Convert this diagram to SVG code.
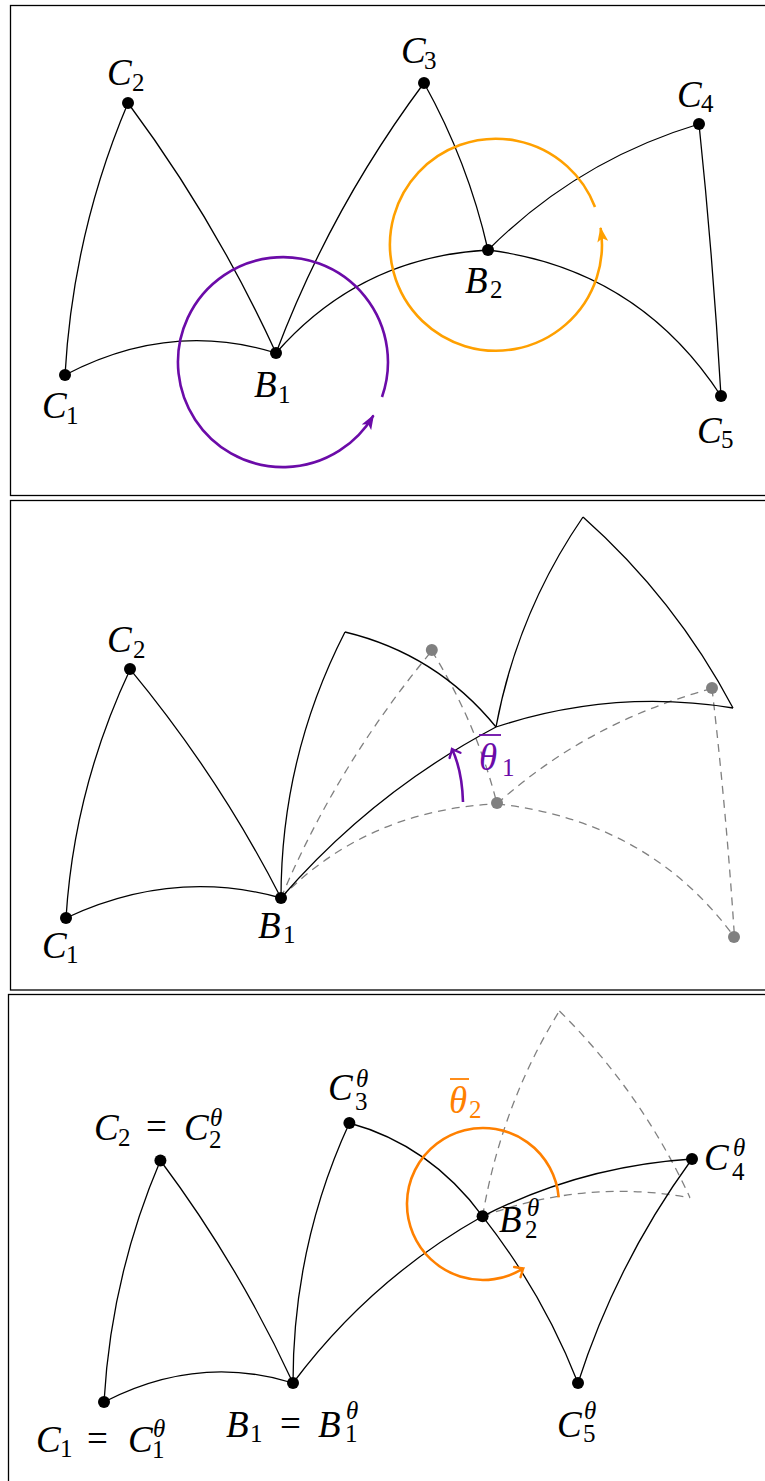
<svg xmlns="http://www.w3.org/2000/svg" width="765" height="1481" viewBox="0 0 765 1481">
<style>
.fr{fill:none;stroke:#000;stroke-width:1.3}
.e{fill:none;stroke:#000;stroke-width:1.3}
.g{fill:none;stroke:#808080;stroke-width:1.3;stroke-dasharray:8 6}
.d{fill:#000}
.gd{fill:#808080}
.L{font-family:'Liberation Serif','DejaVu Serif',serif;font-size:37px;font-style:italic;fill:#000}
.s{font-size:25px;font-style:normal}
.si{font-size:25px;font-style:italic}
.n{font-style:normal}
.pu{fill:none;stroke:#6b0ba8;stroke-width:2.6}
.or1{fill:none;stroke:#ffa000;stroke-width:2.6}
.or3{fill:none;stroke:#ff8000;stroke-width:2.6}
</style>
<defs>
<marker id="mPu" viewBox="0 0 15 11" refX="14" refY="5.5" markerWidth="15" markerHeight="11" markerUnits="userSpaceOnUse" orient="auto"><path d="M0,0 L15,5.5 L0,11 L3.5,5.5 z" fill="#6b0ba8"/></marker>
<marker id="mOr" viewBox="0 0 15 11" refX="14" refY="5.5" markerWidth="15" markerHeight="11" markerUnits="userSpaceOnUse" orient="auto"><path d="M0,0 L15,5.5 L0,11 L3.5,5.5 z" fill="#ffa000"/></marker>
<marker id="oPu" viewBox="-10 -8 12 16" refX="0" refY="0" markerWidth="12" markerHeight="16" markerUnits="userSpaceOnUse" orient="auto"><path d="M-7,-6 Q-2,-1.5 0,0 Q-2,1.5 -7,6" fill="none" stroke="#6b0ba8" stroke-width="2.4" stroke-linecap="round"/></marker>
<marker id="oOr" viewBox="-10 -8 12 16" refX="0" refY="0" markerWidth="12" markerHeight="16" markerUnits="userSpaceOnUse" orient="auto"><path d="M-7,-6 Q-2,-1.5 0,0 Q-2,1.5 -7,6" fill="none" stroke="#ff8000" stroke-width="2.4" stroke-linecap="round"/></marker>
</defs>
<rect width="765" height="1481" fill="#fff"/>
<g id="frames">
<rect class="fr" x="10.5" y="5.5" width="800" height="490"/>
<rect class="fr" x="10.5" y="500.5" width="800" height="489.5"/>
<rect class="fr" x="8.5" y="994.5" width="800" height="600" stroke="#333"/>
</g>

<g font-family="'Liberation Serif','DejaVu Serif',serif">
<!-- Panel 1 -->
<g id="connectors-p1">
<path class="e" d="M65,375 Q73,233 128,103"/>
<path class="e" d="M128,103 Q215,220 276,353"/>
<path class="e" d="M65,375 Q170,320 276,353"/>
<path class="e" d="M276,353 Q331,207.6 424,83"/>
<path class="e" d="M424,83 Q468,162 488,250"/>
<path class="e" d="M276,353 Q360,257 488,250"/>
<path class="e" d="M488,250 Q577.7,160.4 699,124"/>
<path class="e" d="M699,124 Q713,258 721,396"/>
<path class="e" d="M488,250 Q638,269 721,396"/>
<path class="pu" d="M382,397 A105,105 0 1 0 373.5,415.3" marker-end="url(#mPu)"/>
<path class="or1" d="M595,207 A106,106 0 1 0 600.6,227.9" marker-end="url(#mOr)"/>
</g>
<g id="p1-C1"><circle class="d" cx="65" cy="375" r="6"/><text class="L"><tspan x="42" y="418">C</tspan><tspan class="s" x="66" y="424">1</tspan></text></g>
<g id="p1-C2"><circle class="d" cx="128" cy="103" r="6"/><text class="L"><tspan x="107" y="85">C</tspan><tspan class="s" x="132" y="91">2</tspan></text></g>
<g id="p1-C3"><circle class="d" cx="424" cy="83" r="6"/><text class="L"><tspan x="401" y="63">C</tspan><tspan class="s" x="424" y="69">3</tspan></text></g>
<g id="p1-C4"><circle class="d" cx="699" cy="124" r="6"/><text class="L"><tspan x="677" y="107">C</tspan><tspan class="s" x="701" y="112">4</tspan></text></g>
<g id="p1-C5"><circle class="d" cx="721" cy="396" r="6"/><text class="L"><tspan x="697" y="443">C</tspan><tspan class="s" x="721" y="448">5</tspan></text></g>
<g id="p1-B1"><circle class="d" cx="276" cy="353" r="6"/><text class="L"><tspan x="254" y="397">B</tspan><tspan class="s" x="278" y="403">1</tspan></text></g>
<g id="p1-B2"><circle class="d" cx="488" cy="250" r="6"/><text class="L"><tspan x="465" y="293">B</tspan><tspan class="s" x="490" y="298">2</tspan></text></g>

<!-- Panel 2 -->
<g id="connectors-p2">
<path class="e" d="M66,918 Q74.2,788.2 130.2,669.3"/>
<path class="e" d="M130.2,669.3 Q218.8,776.3 281,898"/>
<path class="e" d="M66,918 Q173,867.8 281,898"/>
<path class="g" d="M281,898 Q337,765 431.8,650.9"/>
<path class="g" d="M431.8,650.9 Q476.6,723.2 497,803.8"/>
<path class="g" d="M281,898 Q366.6,810.2 497,803.8"/>
<path class="g" d="M497,803.8 Q588.4,721.8 712,688.5"/>
<path class="g" d="M712,688.5 Q726.3,811.1 734.5,937.3"/>
<path class="g" d="M497,803.8 Q649.9,821.1 734.5,937.3"/>
<path class="e" d="M281,898 Q281,757 345,632"/>
<path class="e" d="M345,632 Q436.5,654 496,727"/>
<path class="e" d="M281,898 Q372.5,792.3 496,727"/>
<path class="e" d="M496,727 Q517.3,612.8 583,517"/>
<path class="e" d="M583,517 Q675.4,599 733,708"/>
<path class="e" d="M496,727 Q613,688.5 733,708"/>
<path class="pu" d="M463,802 Q462,770 452,749" marker-end="url(#oPu)"/>
</g>
<g id="p2-G3"><circle class="gd" cx="431.8" cy="650" r="6"/></g>
<g id="p2-G2"><circle class="gd" cx="497" cy="803" r="6"/></g>
<g id="p2-G4"><circle class="gd" cx="712" cy="688" r="6"/></g>
<g id="p2-G5"><circle class="gd" cx="734" cy="937" r="6"/></g>
<g id="p2-C1"><circle class="d" cx="66" cy="918" r="6"/><text class="L"><tspan x="42" y="958">C</tspan><tspan class="s" x="66" y="963">1</tspan></text></g>
<g id="p2-C2"><circle class="d" cx="130" cy="669" r="6"/><text class="L"><tspan x="107" y="652">C</tspan><tspan class="s" x="133" y="658">2</tspan></text></g>
<g id="p2-B1"><circle class="d" cx="281" cy="898" r="6"/><text class="L"><tspan x="258" y="938">B</tspan><tspan class="s" x="283" y="943">1</tspan></text></g>
<g id="p2-theta1"><line x1="479" y1="735" x2="501" y2="735" stroke="#6b0ba8" stroke-width="1.8"/><text class="L" style="fill:#6b0ba8"><tspan x="479" y="770">θ</tspan><tspan class="s" x="502" y="776">1</tspan></text></g>

<!-- Panel 3 -->
<g id="connectors-p3">
<path class="e" d="M104,1402 Q111.1,1276.2 160.4,1160.5"/>
<path class="e" d="M160.4,1160.5 Q238.3,1264.6 293,1383"/>
<path class="e" d="M104,1402 Q198,1353.6 293,1383"/>
<path class="g" d="M482.6,1216.3 Q501.4,1104.9 559.4,1011"/>
<path class="g" d="M559.4,1011 Q640.9,1091.5 690,1197.7"/>
<path class="g" d="M482.6,1216.3 Q585.8,1178.7 690,1197.7"/>
<path class="e" d="M293,1383 Q293,1245.5 349.4,1123"/>
<path class="e" d="M349.4,1123 Q430.2,1145.1 482.6,1216.3"/>
<path class="e" d="M482.6,1216.3 Q542.5,1292.6 578,1383"/>
<path class="e" d="M293,1383 Q371,1279 482.6,1216.3"/>
<path class="e" d="M482.6,1216.3 Q581.7,1166 692,1159"/>
<path class="e" d="M692,1159 Q617,1262 578,1383"/>
<path class="or3" d="M558.7,1197.4 A76,76 0 1 0 523.3,1268.4" marker-end="url(#oOr)"/>
</g>
<g id="p3-C1"><circle class="d" cx="104" cy="1402" r="6"/><text class="L"><tspan x="36" y="1452">C</tspan><tspan class="s" x="60" y="1457">1</tspan><tspan class="n" x="87" y="1451">=</tspan><tspan x="128" y="1452">C</tspan><tspan class="si" x="153" y="1437">θ</tspan><tspan class="s" x="152" y="1458">1</tspan></text></g>
<g id="p3-C2"><circle class="d" cx="160.4" cy="1160.5" r="6"/><text class="L"><tspan x="94" y="1140">C</tspan><tspan class="s" x="118" y="1146">2</tspan><tspan class="n" x="146" y="1139">=</tspan><tspan x="184" y="1140">C</tspan><tspan class="si" x="210" y="1126">θ</tspan><tspan class="s" x="209" y="1148">2</tspan></text></g>
<g id="p3-C3"><circle class="d" cx="349.4" cy="1123" r="6"/><text class="L"><tspan x="328" y="1100">C</tspan><tspan class="si" x="356" y="1087">θ</tspan><tspan class="s" x="355" y="1110">3</tspan></text></g>
<g id="p3-B1"><circle class="d" cx="293" cy="1383" r="6"/><text class="L"><tspan x="226" y="1437">B</tspan><tspan class="s" x="250" y="1442">1</tspan><tspan class="n" x="280" y="1436">=</tspan><tspan x="318" y="1437">B</tspan><tspan class="si" x="346" y="1419">θ</tspan><tspan class="s" x="345" y="1442">1</tspan></text></g>
<g id="p3-B2"><circle class="d" cx="482.6" cy="1216.3" r="6"/><text class="L"><tspan x="499" y="1232">B</tspan><tspan class="si" x="527" y="1216">θ</tspan><tspan class="s" x="525" y="1238">2</tspan></text></g>
<g id="p3-C4"><circle class="d" cx="692" cy="1159" r="6"/><text class="L"><tspan x="704" y="1170">C</tspan><tspan class="si" x="733" y="1156">θ</tspan><tspan class="s" x="732" y="1180">4</tspan></text></g>
<g id="p3-C5"><circle class="d" cx="578" cy="1383" r="6"/><text class="L"><tspan x="557" y="1437">C</tspan><tspan class="si" x="584" y="1419">θ</tspan><tspan class="s" x="583" y="1442">5</tspan></text></g>
<g id="p3-theta2"><line x1="450" y1="1079" x2="469" y2="1079" stroke="#ff8000" stroke-width="1.8"/><text class="L" style="fill:#ff8000"><tspan x="449" y="1113">θ</tspan><tspan class="s" x="469" y="1118">2</tspan></text></g>
</g>
</svg>
